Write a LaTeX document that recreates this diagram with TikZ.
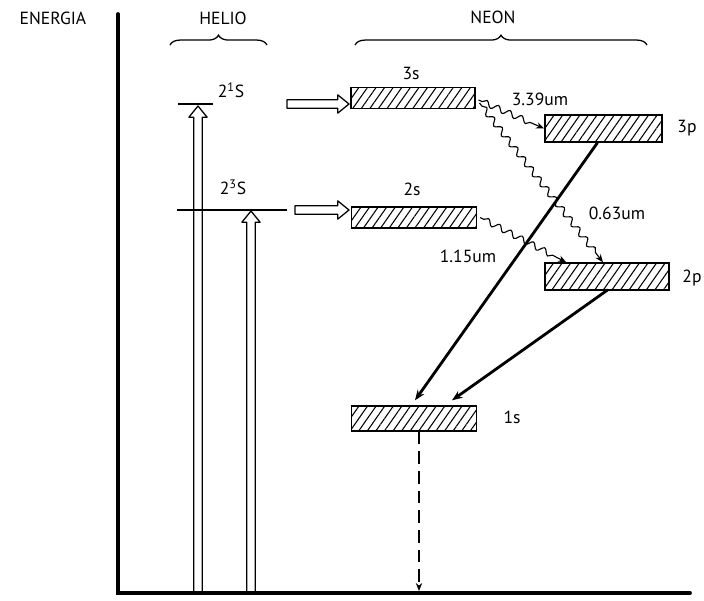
\documentclass[tikz,border=0pt]{standalone}
\usepackage{fontspec}
\setmainfont{PT Sans}
\usetikzlibrary{calc,arrows.meta,positioning,patterns.meta,decorations.pathmorphing,decorations.pathreplacing}
\tikzset{
  enaxis/.style ={line width=2.7pt, line cap=round},
  helevel/.style={line width=0.8pt},
  nebox/.style  ={rectangle, draw, line width=1.1pt, inner sep=0pt,
                  minimum width=3.1cm, minimum height=0.52cm,
                  pattern={Lines[angle=55, distance=5pt, line width=0.75pt]}},
  lvtext/.style ={font=\fontsize{12.5}{15}\selectfont, inner sep=1pt},
  wvtext/.style ={lvtext, fill=white},
  photon/.style ={line width=0.8pt, -{Stealth[length=2mm, width=1.6mm]},
                  decorate, decoration={snake, amplitude=2.1pt, segment length=9pt,
                                        pre length=1mm, post length=2.5mm}},
  decay/.style  ={line width=2pt, -{Stealth[length=2.6mm, width=2mm]}},
  ground/.style ={line width=0.8pt, dash pattern=on 9pt off 5pt,
                  -{Stealth[length=2mm, width=1.6mm]}},
  hollow/.style ={line width=0.9pt, fill=white, line join=round},
  group/.style  ={line width=0.9pt, decorate, decoration={brace, amplitude=7pt}},
}
% outlined (hollow) arrow between two named points
\newcommand{\hollowarrow}[2]{%
  \draw[hollow] let \p1=(#1), \p2=(#2),
      \n1={atan2(\y2-\y1,\x2-\x1)}, \n2={veclen(\x2-\x1,\y2-\y1)} in
    [shift={(\p1)}, rotate=\n1]
    (0pt,-3pt) -- ({(\n2-8)*1pt},-3pt) -- ({(\n2-8)*1pt},-6.5pt) -- ({\n2*1pt},0pt)
    -- ({(\n2-8)*1pt},6.5pt) -- ({(\n2-8)*1pt},3pt) -- (0pt,3pt) -- cycle;}

\begin{document}
\begin{tikzpicture}[x=0.025cm, y=-0.025cm]
  \useasboundingbox (0,0) rectangle (704,600);
  % titles
  \node[lvtext] (energia) at (53,18) {ENERGIA};
  \node[lvtext] (helio) at (223,18) {HELIO};
  \node[lvtext] (neon) at (493,17) {NEON};
  \coordinate (hbl) at (170,45); \coordinate (hbr) at (267,45);
  \coordinate (nbl) at (355,45); \coordinate (nbr) at (647,45);
  \draw[group] (hbl) -- (hbr);
  \draw[group] (nbl) -- (nbr);
  % helium pumping and transfer
  \coordinate (pu1a) at (198,593); \coordinate (pu1b) at (198,106);
  \coordinate (pu3a) at (251,593); \coordinate (pu3b) at (251,211);
  \coordinate (tr1a) at (287,104); \coordinate (tr1b) at (349,104);
  \coordinate (tr3a) at (295,210); \coordinate (tr3b) at (349,210);
  \hollowarrow{pu1a}{pu1b}
  \hollowarrow{pu3a}{pu3b}
  \hollowarrow{tr1a}{tr1b}
  \hollowarrow{tr3a}{tr3b}
  \coordinate (he1l) at (178,104); \coordinate (he1r) at (213,104);
  \coordinate (he3l) at (177,210); \coordinate (he3r) at (287,210);
  \draw[helevel] (he1l) -- (he1r);
  \draw[helevel] (he3l) -- (he3r);
  \node[lvtext] (he1) at (231,90) {2\textsuperscript{1}S};
  \node[lvtext] (he3) at (233,187) {2\textsuperscript{3}S};
  % neon levels
  \node[nebox] (ne3s) at (413,98) {};
  \node[nebox, minimum width=2.93cm, minimum height=0.67cm] (ne3p) at (603.5,128.5) {};
  \node[nebox, minimum width=3.12cm] (ne2s) at (414,217.5) {};
  \node[nebox, minimum height=0.67cm] (ne2p) at (607,276.5) {};
  \node[nebox, minimum width=3.12cm, minimum height=0.62cm] (ne1s) at (414,418.5) {};
  \node[lvtext] (l3s) at (411,73) {3s};
  \node[lvtext] (l3p) at (687,128) {3p};
  \node[lvtext] (l2s) at (412,189) {2s};
  \node[lvtext] (l2p) at (692,278) {2p};
  \node[lvtext] (l1s) at (512,417) {1s};
  % laser lines
  \draw[photon] ($(ne3s.east)+(3,2)$) -- (ne3p.west);
  \draw[photon] ($(ne3s.east)+(4,5)$) -- ($(ne2p.north)+(-4,0)$);
  \draw[photon] ($(ne2s.east)+(3,0)$) -- ($(ne2p.north west)+(22,0)$);
  \node[wvtext] (w339) at (540,99) {3.39um};
  \node[wvtext] (w063) at (617,213) {0.63um};
  \node[wvtext] (w115) at (468,256) {1.15um};
  % decays
  \draw[decay] ($(ne3p.south)+(-6,0)$) -- ($(ne1s.north)+(1,-5)$);
  \draw[decay] ($(ne2p.south)+(1,-1)$) -- ($(ne1s.north)+(38,-5)$);
  \coordinate (gnd) at (419,591);
  \draw[ground] ($(ne1s.south)+(5,0)$) -- (gnd);
  % energy axis
  \coordinate (etop) at (118,14);
  \coordinate (orig) at (118,593);
  \coordinate (eend) at (690,593);
  \draw[enaxis] (etop) -- (orig) -- (eend);
\end{tikzpicture}
\end{document}
